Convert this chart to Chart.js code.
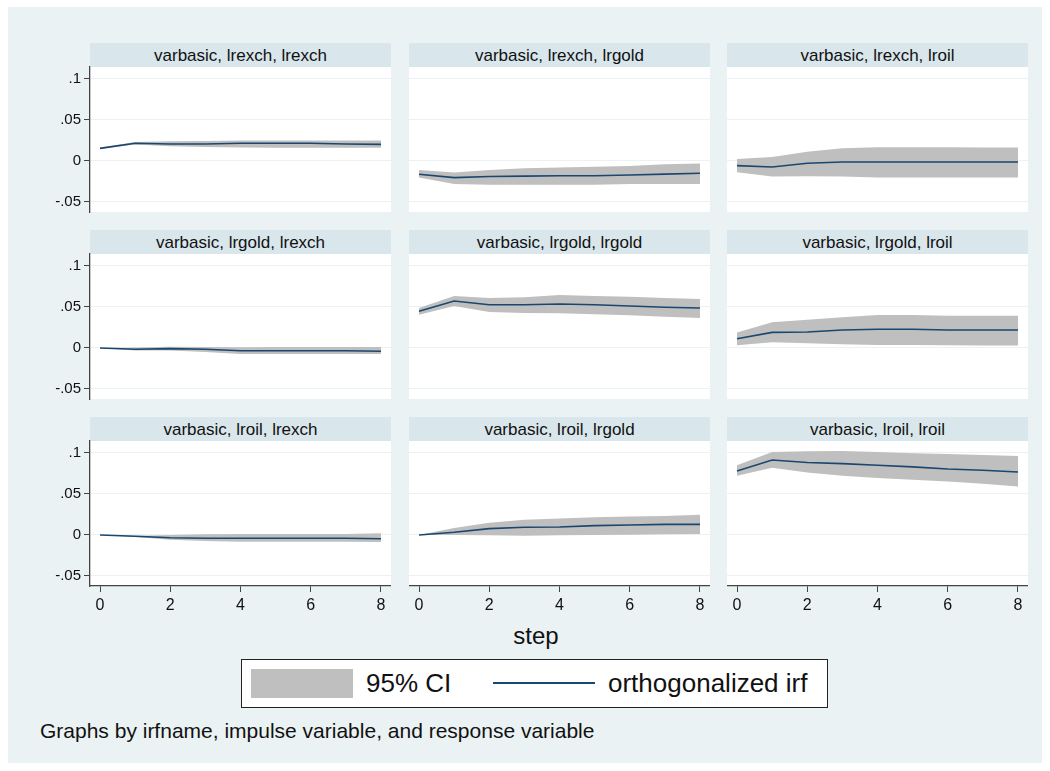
<!DOCTYPE html>
<html>
<head>
<meta charset="utf-8">
<script src="https://cdn.jsdelivr.net/npm/chart.js@4.4.1/dist/chart.umd.min.js"></script>
<style>
  body { margin: 0; background: #fff; font-family: "Liberation Sans", Arial, sans-serif; }
  #frame { position: absolute; left: 8px; top: 7px; width: 1034px; height: 756px; background: #eaf2f3; }
  .strip { position: absolute; height: 24px; line-height: 25px; background: #d9e6eb; text-align: center; font-size: 17px; color: #111; }
  canvas { position: absolute; }
  .txt { position: absolute; color: #111; white-space: nowrap; }
</style>
</head>
<body>
<div id="frame"></div>
<div id="panels"></div>
<div class="txt" id="xtitle" style="left:436px;width:200px;text-align:center;top:622px;font-size:24px;line-height:28px;">step</div>
<div style="position:absolute;left:241px;top:659px;width:585px;height:47px;background:#fff;border:1px solid #222;"></div>
<div style="position:absolute;left:251px;top:669px;width:102px;height:29px;background:#bfbfbf;"></div>
<div class="txt" style="left:366px;top:667px;font-size:26px;line-height:32px;">95% CI</div>
<div style="position:absolute;left:493px;top:682px;width:102px;height:2px;background:#1a476f;"></div>
<div class="txt" style="left:608px;top:667px;font-size:26px;line-height:32px;">orthogonalized irf</div>
<div class="txt" style="left:40px;top:719px;font-size:21px;line-height:24px;">Graphs by irfname, impulse variable, and response variable</div>

<script>
// impulse -> response pairs
const steps = [0, 1, 2, 3, 4, 5, 6, 7, 8];
const xTickValues = [0, 2, 4, 6, 8];
const yTickValues = [-0.05, 0, 0.05, 0.1];
const yTickLabels = ['-.05', '0', '.05', '.1'];
const panelTitles = [
  'varbasic, lrexch, lrexch', 'varbasic, lrexch, lrgold', 'varbasic, lrexch, lroil',
  'varbasic, lrgold, lrexch', 'varbasic, lrgold, lrgold', 'varbasic, lrgold, lroil',
  'varbasic, lroil, lrexch', 'varbasic, lroil, lrgold', 'varbasic, lroil, lroil'
];

const irf_exch_exch = [.0154, .0216, .0207, .0207, .0216, .0216, .0216, .0207, .0203];
const lo_exch_exch  = [.0145, .0200, .0180, .0170, .0165, .0162, .0160, .0160, .0160];
const hi_exch_exch  = [.0165, .0230, .0240, .0245, .0250, .0250, .0250, .0250, .0250];

const irf_exch_gold = [-.0162, -.0203, -.0190, -.0185, -.0180, -.0180, -.0170, -.0160, -.0150];
const lo_exch_gold  = [-.0200, -.0280, -.0290, -.0290, -.0290, -.0290, -.0280, -.0280, -.0280];
const hi_exch_gold  = [-.0110, -.0140, -.0110, -.0090, -.0080, -.0070, -.0060, -.0040, -.0030];

const irf_exch_oil = [-.0057, -.0073, -.0028, -.0012, -.0012, -.0012, -.0012, -.0012, -.0012];
const lo_exch_oil  = [-.0138, -.0190, -.0185, -.0190, -.0200, -.0200, -.0200, -.0200, -.0200];
const hi_exch_oil  = [.0024, .0050, .0114, .0155, .0167, .0167, .0167, .0165, .0163];

const irf_gold_exch = [0, -.0016, -.0008, -.0016, -.0033, -.0033, -.0033, -.0033, -.0040];
const lo_gold_exch  = [0, -.0030, -.0030, -.0049, -.0073, -.0073, -.0073, -.0073, -.0073];
const hi_gold_exch  = [0, .0005, .0016, .0012, .0008, .0012, .0012, .0012, .0012];

const irf_gold_gold = [.0447, .0573, .0528, .0528, .0537, .0528, .0512, .0496, .0488];
const lo_gold_gold  = [.0406, .0512, .0440, .0427, .0423, .0410, .0398, .0382, .0366];
const hi_gold_gold  = [.0488, .0634, .0610, .0618, .0646, .0634, .0626, .0610, .0597];

const irf_gold_oil = [.0113, .0190, .0195, .0220, .0228, .0228, .0220, .0220, .0220];
const lo_gold_oil  = [.0033, .0069, .0057, .0045, .0037, .0037, .0033, .0029, .0029];
const hi_gold_oil  = [.0190, .0313, .0345, .0374, .0402, .0402, .0394, .0394, .0394];

const irf_oil_exch = [0, -.0016, -.0033, -.0040, -.0040, -.0040, -.0040, -.0040, -.0045];
const lo_oil_exch  = [0, -.0024, -.0057, -.0073, -.0081, -.0081, -.0081, -.0081, -.0085];
const hi_oil_exch  = [0, -.0008, 0, .0008, .0012, .0012, .0012, .0012, .0020];

const irf_oil_gold = [0, .0033, .0077, .0094, .0098, .0114, .0122, .0130, .0130];
const lo_oil_gold  = [0, 0, -.0004, -.0008, -.0004, 0, .0004, .0008, .0012];
const hi_oil_gold  = [0, .0085, .0150, .0187, .0200, .0215, .0224, .0232, .0248];

const irf_oil_oil = [.0780, .0915, .0883, .0870, .0850, .0830, .0805, .0790, .0768];
const lo_oil_oil  = [.0723, .0820, .0762, .0723, .0694, .0673, .0653, .0624, .0590];
const hi_oil_oil  = [.0850, .1012, .1020, .1024, .1012, .0996, .0988, .0976, .0963];

const panels = [
  [irf_exch_exch, lo_exch_exch, hi_exch_exch],
  [irf_exch_gold, lo_exch_gold, hi_exch_gold],
  [irf_exch_oil, lo_exch_oil, hi_exch_oil],
  [irf_gold_exch, lo_gold_exch, hi_gold_exch],
  [irf_gold_gold, lo_gold_gold, hi_gold_gold],
  [irf_gold_oil, lo_gold_oil, hi_gold_oil],
  [irf_oil_exch, lo_oil_exch, hi_oil_exch],
  [irf_oil_gold, lo_oil_gold, hi_oil_gold],
  [irf_oil_oil, lo_oil_oil, hi_oil_oil]
];

const colLefts = [90, 409, 727];
const rowTops = [67, 254, 441];
const plotW = 301, plotH = 145;
const yAxisW = 60, xAxisH = 36;
const axisColor = '#444';
const yFont = { family: '"Liberation Sans", Arial, sans-serif', size: 15 };
const xFont = { family: '"Liberation Sans", Arial, sans-serif', size: 16 };

const pts = arr => arr.map((v, i) => ({ x: steps[i], y: v }));

const plotBg = {
  id: 'plotBg',
  beforeDraw(chart) {
    const a = chart.chartArea, ctx = chart.ctx;
    ctx.save();
    ctx.fillStyle = '#fff';
    ctx.fillRect(a.left, a.top, a.right - a.left, a.bottom - a.top);
    ctx.restore();
  }
};

function makeConfig(p, leftCol, bottomRow) {
  return {
    type: 'line',
    data: {
      datasets: [
        { label: 'lower', data: pts(p[1]), borderWidth: 0, pointRadius: 0, fill: false,
          tension: 0, order: 2 },
        { label: '95% CI', data: pts(p[2]), borderWidth: 0, pointRadius: 0, fill: '-1',
          backgroundColor: '#bfbfbf', tension: 0, order: 1 },
        { label: 'orthogonalized irf', data: pts(p[0]), borderColor: '#1a476f', borderWidth: 1.6,
          pointRadius: 0, fill: false, tension: 0, order: 0 }
      ]
    },
    options: {
      responsive: false,
      maintainAspectRatio: false,
      animation: false,
      layout: { padding: 0, autoPadding: false },
      plugins: { legend: { display: false }, tooltip: { enabled: false } },
      scales: {
        x: {
          type: 'linear',
          display: bottomRow,
          min: -0.285,
          max: 8.285,
          afterBuildTicks: s => { s.ticks = xTickValues.map(v => ({ value: v })); },
          afterFit: s => { s.height = bottomRow ? xAxisH : 0; },
          grid: { drawOnChartArea: false, drawTicks: true, tickLength: 6, tickColor: axisColor },
          border: { display: true, color: axisColor, width: 1.3 },
          ticks: { color: '#111', font: xFont, padding: 4, maxRotation: 0 }
        },
        y: {
          min: -0.0622,
          max: 0.1146,
          afterBuildTicks: s => { s.ticks = yTickValues.map(v => ({ value: v })); },
          afterFit: s => { s.width = leftCol ? yAxisW : 0; },
          grid: { color: '#eaf2f3', lineWidth: 1, drawTicks: leftCol, tickLength: 6, tickColor: axisColor },
          border: { display: leftCol, color: axisColor, width: 1.3 },
          ticks: {
            display: leftCol,
            color: '#111',
            font: yFont,
            padding: 3,
            callback: (v, i) => yTickLabels[i]
          }
        }
      }
    },
    plugins: [plotBg]
  };
}

const holder = document.getElementById('panels');

panels.forEach((p, k) => {
  const r = Math.floor(k / 3), c = k % 3;
  const leftCol = c === 0, bottomRow = r === 2;

  const strip = document.createElement('div');
  strip.className = 'strip';
  strip.style.left = colLefts[c] + 'px';
  strip.style.top = (rowTops[r] - 24) + 'px';
  strip.style.width = plotW + 'px';
  strip.textContent = panelTitles[k];
  holder.appendChild(strip);

  // first pass: measure where Chart.js puts the plot area
  const w = plotW + (leftCol ? yAxisW : 0);
  const h = plotH + (bottomRow ? xAxisH : 0);
  const probe = document.createElement('canvas');
  probe.width = w; probe.height = h;
  probe.style.width = w + 'px'; probe.style.height = h + 'px';
  holder.appendChild(probe);
  const test = new Chart(probe.getContext('2d'), makeConfig(p, leftCol, bottomRow));
  const a = test.chartArea;
  const padL = a.left - (leftCol ? yAxisW : 0);
  const padT = a.top;
  const padR = w - a.right;
  const padB = (h - a.bottom) - (bottomRow ? xAxisH : 0);
  test.destroy();
  holder.removeChild(probe);

  const W = w + padL + padR, H = h + padT + padB;
  const cv = document.createElement('canvas');
  cv.width = W; cv.height = H;
  cv.style.width = W + 'px'; cv.style.height = H + 'px';
  cv.style.left = (colLefts[c] - (leftCol ? yAxisW : 0) - padL) + 'px';
  cv.style.top = (rowTops[r] - padT) + 'px';
  holder.appendChild(cv);
  new Chart(cv.getContext('2d'), makeConfig(p, leftCol, bottomRow));
});
</script>
</body>
</html>
